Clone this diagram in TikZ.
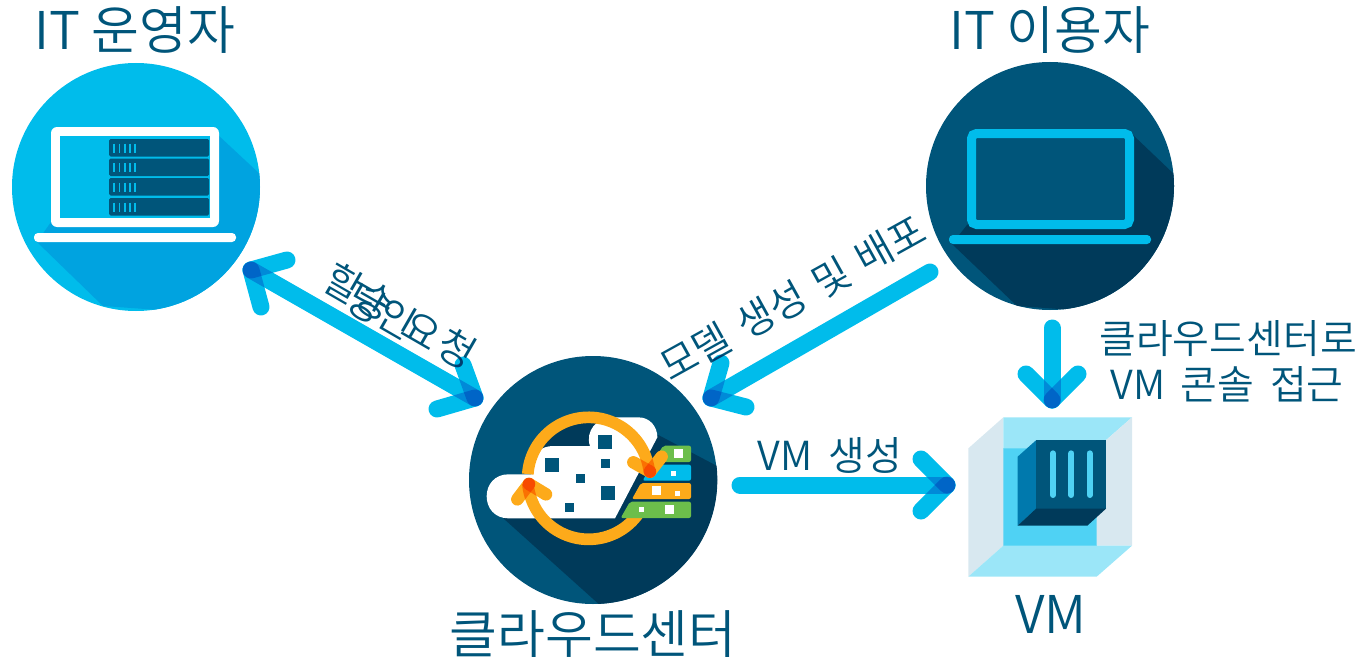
\documentclass[tikz,border=0pt]{standalone}
\usepackage{fontspec}
\usetikzlibrary{calc}
\setmainfont{Noto Sans CJK KR DemiLight}
\definecolor{txt}{HTML}{00557A}
\definecolor{cy}{HTML}{00BCEB}
\definecolor{cyd}{HTML}{00A3E0}
\definecolor{nv}{HTML}{00557A}
\definecolor{nvd}{HTML}{003A5A}
\definecolor{org}{HTML}{FDAA1A}
\definecolor{org2}{HTML}{FA7102}
\definecolor{org3}{HTML}{F74B00}
\definecolor{grn}{HTML}{6CBE4B}
\definecolor{lbl}{HTML}{9BE6F8}
\definecolor{lgr}{HTML}{D8E8F0}
\definecolor{mbl}{HTML}{4FD2F4}
\definecolor{cub}{HTML}{0079AD}
\newcommand{\armclip}[2]{\clip ($(#1)!6.25pt!90:(#2)$) -- ($(#2)!6.25pt!-90:(#1)$) -- ($(#2)!6.25pt!90:(#1)$) -- ($(#1)!6.25pt!-90:(#2)$) -- cycle;}
% ring part in the local frame of the icon
\newcommand{\ringpart}[3]{\begin{scope}[z={460,360}]\draw[#1,line width=11.7pt] plot[domain=#2:#3,samples=30] ({386+183*cos(\x)},{355-183*sin(\x)});\end{scope}}
\tikzset{
  big/.style={text=txt,font=\fontsize{52}{52}\selectfont,inner sep=0pt},
  small/.style={text=txt,font=\fontsize{40}{40}\selectfont,inner sep=0pt},
  conn/.style={draw=cy,line width=17pt,line cap=round,blend mode=multiply},
  hook/.style={draw=org,line width=12.5pt,line cap=round},
  disc/.style={circle,minimum size=248pt,inner sep=0pt},
  z/.style={shift={(#1)},x=0.33333pt,y=-0.33333pt},
}
\begin{document}
\begin{tikzpicture}[x=1pt,y=-1pt]
\useasboundingbox (0,0) rectangle (1369,661);
% --- operator disc
\node[disc,fill=cy] (op) at (136,187) {};
\begin{scope}
\clip (136,187) circle (124pt);
\fill[cyd] (218,135) -- (262,176) -- (300,320) -- (103,306) -- (37,242) -- (51,222) -- cycle;
\end{scope}
\fill[white,rounded corners=6pt] (51,127) rectangle (219,227);
\fill[cy] (60,136) rectangle (210,218);
\fill[white,rounded corners=4pt] (34,233) rectangle (236,242);
\foreach \y in {139,158.5,178,198}{
  \fill[nv,rounded corners=1.5pt] (109,\y) rectangle (209,\y+17.5);
  \foreach \x in {114,119.5,125,130,135}
    \draw[cy,line width=1.3pt] (\x,\y+4.5) -- (\x,\y+13.5);
}
% --- user disc
\node[disc,fill=nv] (us) at (1050,186) {};
\begin{scope}
\clip (1050,186) circle (124pt);
\fill[nvd] (1133,135) -- (1176,176) -- (1214,320) -- (1017,306) -- (952,244) -- (967,225) -- cycle;
\end{scope}
\draw[cy,fill=nv,line width=9pt,rounded corners=5pt] (971.5,133.5) rectangle (1129.5,224.5);
\fill[cy,rounded corners=4pt] (949,235) rectangle (1151,244);
% --- cloud centre disc
\node[disc,fill=nv] (cc) at (593,480) {};
\begin{scope}[z={460,360}]
\begin{scope}
\clip (400,360) circle (372);
\fill[nvd] (130,475) -- (425,740) -- (790,740) -- (790,328) -- (595,225) -- (500,400) -- cycle;
\end{scope}
\fill[nvd] (386,355) circle (170);
\fill[white] (145,475) .. controls (105,475) and (80,445) .. (80,409)
  .. controls (80,373) and (105,343) .. (145,343) -- (215,343) -- (215,315)
  .. controls (215,280) and (245,258) .. (280,258) -- (390,258)
  .. controls (375,215) and (410,172) .. (455,172) -- (535,172)
  .. controls (570,172) and (592,200) .. (592,232) -- (465,475) -- cycle;
\foreach \a/\b/\s in {414/225/42,255/294/42,423/297/27,348/342/27,423/378/42,315/429/27}
  \fill[nv] (\a,\b) rectangle (\a+\s,\b+\s);
\draw[org,line width=11.7pt] plot[domain=176:6,samples=60] ({386+183*cos(\x)},{355-183*sin(\x)});
\draw[org,line width=11.7pt] plot[domain=185:330,samples=60] ({386+183*cos(\x)},{355-183*sin(\x)});
\fill[grn,rounded corners=2pt] (610,257) -- (693,257) -- (693,306) -- (578,306) -- cycle;
\fill[cy,rounded corners=2pt] (575,314) -- (693,314) -- (693,362) -- (548,362) -- cycle;
\fill[org,rounded corners=2pt] (543,369) -- (693,369) -- (693,417) -- (516,417) -- cycle;
\fill[grn,rounded corners=2pt] (510,425) -- (693,425) -- (693,474) -- (482,474) -- cycle;
\foreach \a/\b/\s in {642/268/27,633/333/15,576/378/27,645/393/15,537/441/15,615/435/27}
  \fill[white] (\a,\b) rectangle (\a+\s,\b+\s);
\coordinate (h1) at (570,335);
\coordinate (h1a) at (520,307);
\coordinate (h1b) at (605,290);
\coordinate (h2) at (207,372);
\coordinate (h2a) at (172,418);
\coordinate (h2b) at (258,403);
\end{scope}
% arrowheads of the ring: arms, then the darker overlaps
\foreach \t/\p/\q/\ra/\rb in {h1/h1a/h1b/6/40,h2/h2a/h2b/185/220}{
  \draw[hook] (\t) -- (\p);
  \draw[hook] (\t) -- (\q);
  \begin{scope}\armclip{\t}{\p}\ringpart{org2}{\ra}{\rb}\end{scope}
  \begin{scope}\armclip{\t}{\q}\ringpart{org2}{\ra}{\rb}\end{scope}
  \begin{scope}\armclip{\t}{\p}\armclip{\t}{\q}
    \fill[org2] (\t) circle (30pt);
    \ringpart{org3}{\ra}{\rb}
  \end{scope}
  \fill[org3] (\t) circle (6.25pt);
}
% --- VM cube
\begin{scope}[z={950,400}]
\fill[mbl] (160,145) rectangle (440,437);
\fill[lgr] (55,145) -- (160,52) -- (160,437) -- (55,530) -- cycle;
\fill[lbl] (160,52) -- (546,52) -- (440,145) -- (160,145) -- cycle;
\fill[lgr] (546,52) -- (546,437) -- (440,437) -- (440,145) -- cycle;
\fill[lbl] (55,530) -- (160,437) -- (546,437) -- (440,530) -- cycle;
\fill[cub] (203,170) -- (258,121) -- (258,326) -- (203,377) -- cycle;
\fill[nv] (258,121) rectangle (468,326);
\fill[nvd] (258,326) -- (468,326) -- (412,377) -- (203,377) -- cycle;
\foreach \x in {309,364,419}
  \draw[mbl,line width=6pt,line cap=round] (\x,160) -- (\x,285);
\end{scope}
% --- labels
\node[big] (t1) at (135,30) {IT 운영자};
\node[big] (t2) at (1050,30) {IT 이용자};
\node[big] (t3) at (593,634) {클라우드센터};
\node[big] (t4) at (1051,614) {VM};
\node[small] (t5) at (830,455) {VM\, 생성};
\node[small,rotate=29] (t6) at (793,298) {모델\hspace{4pt} 생성\hspace{4pt} 및\hspace{4pt} 배포};
\node[small] (t7) at (1228,339) {클라우드센터로};
\node[small] (t8) at (1227,384) {VM\, 콘솔\, 접근};
\node[small,rotate=-30] (t9) at (344,283) {할};
\node[small,rotate=-30] (t10) at (367,304) {당};
\node[small,rotate=-30] (t11) at (376,301) {승};
\node[small,rotate=-30] (t12) at (397,318) {인};
\node[small,rotate=-30] (t13) at (422,330) {요};
\node[small,rotate=-30] (t14) at (457,349) {청};
% --- connectors
\coordinate (a1) at (251,270);
\coordinate (a1u) at (287,260);
\coordinate (a1d) at (261,307);
\coordinate (b1) at (475,398);
\coordinate (b1u) at (463,365);
\coordinate (b1d) at (437,409);
\coordinate (a2) at (711,398);
\coordinate (a2u) at (721,363);
\coordinate (a2d) at (746,407);
\coordinate (a2s) at (930,272);
\coordinate (a3) at (1052,400);
\coordinate (a3l) at (1026,374);
\coordinate (a3r) at (1078,374);
\coordinate (a3s) at (1052,328);
\coordinate (a4) at (947,485);
\coordinate (a4u) at (921,459);
\coordinate (a4d) at (921,511);
\coordinate (a4s) at (740,485);
\draw[conn] (a1) -- (b1);
\draw[conn] (a1) -- (a1u);
\draw[conn] (a1) -- (a1d);
\draw[conn] (b1) -- (b1u);
\draw[conn] (b1) -- (b1d);
\draw[conn] (a2s) -- (a2);
\draw[conn] (a2) -- (a2u);
\draw[conn] (a2) -- (a2d);
\draw[conn] (a3s) -- (a3);
\draw[conn] (a3) -- (a3l);
\draw[conn] (a3) -- (a3r);
\draw[conn] (a4s) -- (a4);
\draw[conn] (a4) -- (a4u);
\draw[conn] (a4) -- (a4d);
\end{tikzpicture}
\end{document}
